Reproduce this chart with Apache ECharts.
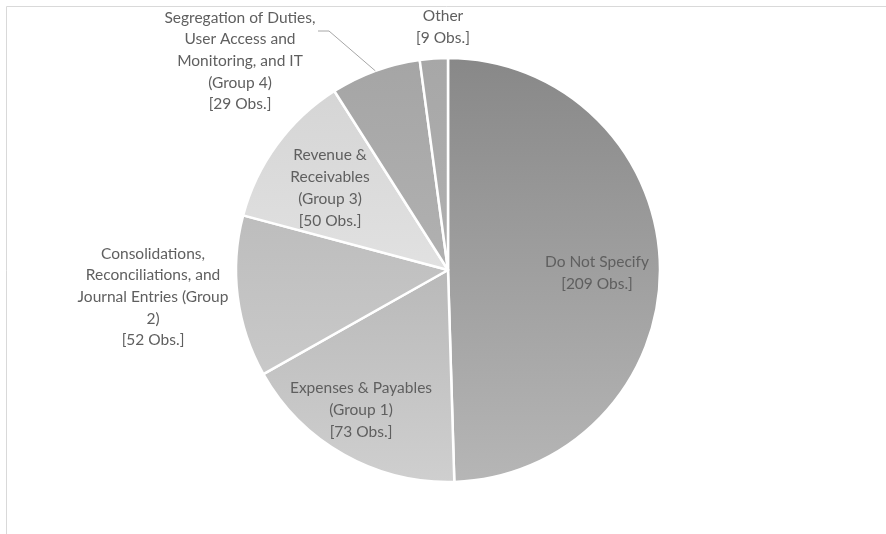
<!DOCTYPE html>
<html>
<head>
<meta charset="utf-8">
<script src="https://cdn.jsdelivr.net/npm/echarts@6/dist/echarts.min.js"></script>
<style>
  html, body { margin: 0; padding: 0; background: #fff; }
  #chart { width: 886px; height: 534px; }
</style>
</head>
<body>
<div id="chart"></div>
<script>
var categories = [
  'Do Not Specify',
  'Expenses & Payables\n(Group 1)',
  'Consolidations,\nReconciliations, and\nJournal Entries (Group\n2)',
  'Revenue &\nReceivables\n(Group 3)',
  'Segregation of Duties,\nUser Access and\nMonitoring, and IT\n(Group 4)',
  'Other'
];
var counts = [209, 73, 52, 50, 29, 9];
// top / bottom grey of each slice's gradient
var topGreys = ['#888888', '#b9b9b9', '#bdbdbd', '#d5d5d5', '#a5a5a5', '#a7a7a7'];
var bottomGreys = ['#b6b6b6', '#cfcfcf', '#c9c9c9', '#e1e1e1', '#b1b1b1', '#b0b0b0'];
// where each label block is centred
var labelSpots = [[597, 273], [361, 410], [153, 297], [330, 188], [240, 61], [443, 27]];

var pieCenter = [448, 270];
var pieRadius = 212;

var myChart = echarts.init(document.getElementById('chart'));

var pieData = counts.map(function (v, i) {
  return {
    value: v,
    name: categories[i],
    itemStyle: {
      color: {
        type: 'linear', x: 0, y: 0, x2: 0, y2: 1,
        colorStops: [
          { offset: 0, color: topGreys[i] },
          { offset: 1, color: bottomGreys[i] }
        ]
      }
    }
  };
});

// leader line for the Group 4 slice: from the middle of its outer arc to the label's first line
var total = counts.reduce(function (a, b) { return a + b; }, 0);
var before = 0;
for (var k = 0; k < 4; k++) before += counts[k];
var midAngle = (before + counts[4] / 2) / total * 2 * Math.PI;
var edgePt = [pieCenter[0] + pieRadius * Math.sin(midAngle), pieCenter[1] - pieRadius * Math.cos(midAngle)];

var option = {
  animation: false,
  graphic: [{
    type: 'rect',
    shape: { x: 6.5, y: 6.5, width: 1000, height: 1000 },
    style: { fill: 'none', stroke: '#d9d9d9', lineWidth: 1 },
    silent: true
  }, {
    type: 'polyline',
    shape: { points: [edgePt, [329, 31], [318, 31]] },
    style: { fill: 'none', stroke: '#a6a6a6', lineWidth: 1 },
    silent: true,
    z: 10
  }],
  series: [{
    type: 'pie',
    center: pieCenter,
    radius: pieRadius,
    startAngle: 90,
    clockwise: true,
    itemStyle: { borderColor: '#ffffff', borderWidth: 2.5 },
    label: {
      show: true,
      position: 'outside',
      formatter: function (p) { return p.name + '\n[' + p.value + ' Obs.]'; },
      color: '#5f5f5f',
      fontFamily: 'Lato',
      fontSize: 15.5,
      lineHeight: 21.7,
      align: 'center'
    },
    labelLine: { show: false },
    labelLayout: function (p) {
      var s = labelSpots[p.dataIndex];
      return { x: s[0], y: s[1], align: 'center', verticalAlign: 'middle' };
    },
    data: pieData
  }]
};

myChart.setOption(option);

window.onresize = function () {
  myChart.resize();
};
</script>
</body>
</html>
